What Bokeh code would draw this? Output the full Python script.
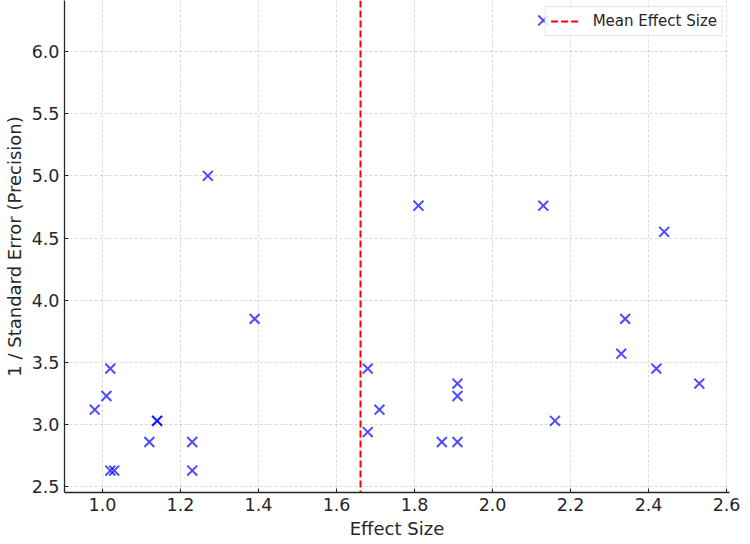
from bokeh.plotting import figure
from bokeh.models import Range1d, Legend, LegendItem, NumeralTickFormatter
from bokeh.embed import file_html
from bokeh.resources import INLINE
import numpy as np

# Effect sizes and precision (1 / standard error) per study
effect_size = [0.98, 1.01, 1.02, 1.02, 1.03, 1.12, 1.14, 1.14, 1.23, 1.23,
               1.27, 1.39, 1.68, 1.68, 1.71, 1.81, 1.87, 1.91, 1.91, 1.91,
               2.13, 2.13, 2.16, 2.33, 2.34, 2.42, 2.44, 2.53]
precision = [3.12, 3.23, 3.45, 2.63, 2.63, 2.86, 3.03, 3.03, 2.86, 2.63,
             5.00, 3.85, 3.45, 2.94, 3.12, 4.76, 2.86, 2.86, 3.23, 3.33,
             4.76, 6.25, 3.03, 3.57, 3.85, 3.45, 4.55, 3.33]

x_ticks = [1.0, 1.2, 1.4, 1.6, 1.8, 2.0, 2.2, 2.4, 2.6]
y_ticks = [2.5, 3.0, 3.5, 4.0, 4.5, 5.0, 5.5, 6.0]

mean_effect = float(np.mean(effect_size))

FONT = "DejaVu Sans"

p = figure(width=750, height=544, output_backend="svg", toolbar_location=None,
           x_range=Range1d(0.9025, 2.6075), y_range=Range1d(2.454, 6.41),
           min_border_left=64, min_border_right=21, min_border_top=0, min_border_bottom=52)

p.outline_line_color = None
p.background_fill_color = "white"
p.border_fill_color = "white"

for ax in (p.xaxis[0], p.yaxis[0]):
    ax.major_label_text_font = FONT
    ax.major_label_text_font_size = "17.5px"
    ax.major_label_text_color = "#262626"
    ax.axis_label_text_font = FONT
    ax.axis_label_text_font_size = "18px"
    ax.axis_label_text_font_style = "normal"
    ax.axis_label_text_color = "#262626"
    ax.axis_line_color = "#262626"
    ax.axis_line_width = 1.3
    ax.major_tick_line_color = "#262626"
    ax.major_tick_in = 4
    ax.major_tick_out = 0
    ax.minor_tick_line_color = None
    ax.major_label_standoff = 5
    ax.axis_label_standoff = 4
    ax.formatter = NumeralTickFormatter(format="0.0")

p.xaxis.ticker = x_ticks
p.yaxis.ticker = y_ticks
p.xaxis.axis_label = "Effect Size"
p.yaxis.axis_label = "1 / Standard Error (Precision)"

p.grid.grid_line_color = "#b0b0b0"
p.grid.grid_line_alpha = 0.6
p.grid.grid_line_dash = "3 2"
p.grid.grid_line_width = 0.8

p.scatter(effect_size, precision, marker="x", size=14, line_width=2,
          line_color="blue", line_alpha=0.7)

vs = p.vspan(x=[mean_effect], line_color="red", line_width=2, line_dash="7 3")

legend = Legend(items=[LegendItem(label="Mean Effect Size", renderers=[vs])],
                location="top_right")
legend.label_text_font = FONT
legend.label_text_font_size = "15px"
legend.label_text_color = "#262626"
legend.border_line_color = "#cccccc"
legend.border_line_width = 1
legend.background_fill_alpha = 0.85
legend.padding = 5
legend.margin = 6
legend.glyph_width = 30
legend.glyph_height = 16
legend.label_standoff = 12
legend.spacing = 0
p.add_layout(legend, "center")

open("out.html", "w").write(file_html(p, INLINE))
